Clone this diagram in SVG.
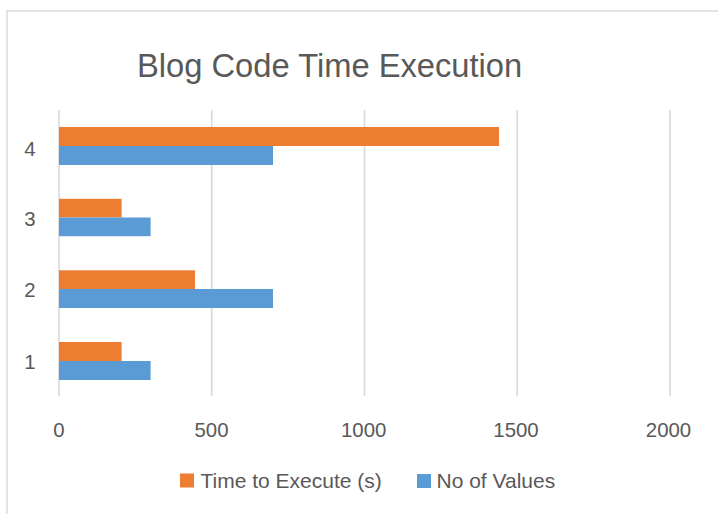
<svg xmlns="http://www.w3.org/2000/svg" width="718" height="514" viewBox="0 0 718 514">
<style>
.t{font-family:"Liberation Sans",Arial,sans-serif;fill:#595959}
.ax{font-size:20.4px}
.lg{font-size:21px}
.grid{stroke:#d9d9d9;stroke-width:1.6}
.o{fill:#ed7d31}
.b{fill:#5b9bd5}
</style>
<rect x="0" y="0" width="718" height="514" fill="#ffffff"/>
<path d="M7 514 V11 H718" fill="none" stroke="#d9d9d9" stroke-width="1.4"/>
<text id="title" class="t" x="137" y="77" font-size="32.7">Blog Code Time Execution</text>
<g id="gridlines">
<line class="grid" x1="59" y1="110" x2="59" y2="396"/>
<line class="grid" x1="211.7" y1="110" x2="211.7" y2="396"/>
<line class="grid" x1="364.5" y1="110" x2="364.5" y2="396"/>
<line class="grid" x1="517.2" y1="110" x2="517.2" y2="396"/>
<line class="grid" x1="670" y1="110" x2="670" y2="396"/>
</g>
<g id="cat4">
<rect class="o" x="59" y="127" width="440" height="19"/>
<rect class="b" x="59" y="146" width="214" height="19"/>
<text class="t ax" x="30" y="156" text-anchor="middle">4</text>
</g>
<g id="cat3">
<rect class="o" x="59" y="198.8" width="62.6" height="18.7"/>
<rect class="b" x="59" y="217.5" width="91.6" height="18.7"/>
<text class="t ax" x="30" y="226" text-anchor="middle">3</text>
</g>
<g id="cat2">
<rect class="o" x="59" y="270.3" width="136" height="18.8"/>
<rect class="b" x="59" y="289" width="214" height="19"/>
<text class="t ax" x="30" y="297" text-anchor="middle">2</text>
</g>
<g id="cat1">
<rect class="o" x="59" y="342" width="62.6" height="19"/>
<rect class="b" x="59" y="361" width="91.6" height="19"/>
<text class="t ax" x="30" y="368.5" text-anchor="middle">1</text>
</g>
<g id="xaxis">
<text class="t ax" x="59" y="436.5" text-anchor="middle">0</text>
<text class="t ax" x="211.5" y="436.5" text-anchor="middle">500</text>
<text class="t ax" x="363.7" y="436.5" text-anchor="middle">1000</text>
<text class="t ax" x="516" y="436.5" text-anchor="middle">1500</text>
<text class="t ax" x="668.5" y="436.5" text-anchor="middle">2000</text>
</g>
<g id="legend">
<rect class="o" x="180" y="473.5" width="14" height="14"/>
<text class="t lg" x="200.5" y="488.3">Time to Execute (s)</text>
<rect class="b" x="417" y="474" width="14" height="14"/>
<text class="t lg" x="436.5" y="488.3">No of Values</text>
</g>
</svg>
